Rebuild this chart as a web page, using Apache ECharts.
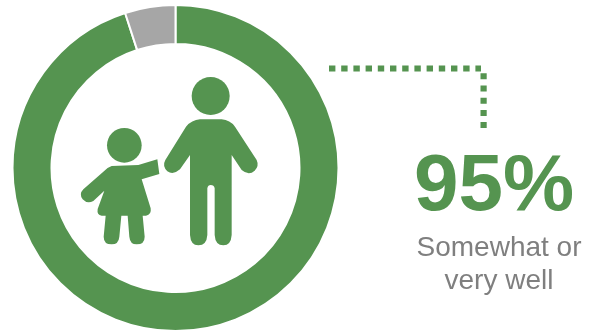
<!DOCTYPE html>
<html>
<head>
<meta charset="utf-8">
<style>html,body{margin:0;padding:0;background:#fff}#chart{width:589px;height:331px}</style>
<script src="https://cdn.jsdelivr.net/npm/echarts@6/dist/echarts.min.js"></script>
</head>
<body>
<div id="chart"></div>
<script>
// Share of responses
const categories = ['Somewhat or very well', 'Other'];
const values = [95, 5];
const headline = '95%';
const captionLines = ['Somewhat or', 'very well'];

const GREEN = '#559450';
const GREY = '#a6a6a6';
const CAPTION = '#7f7f7f';

// Pictogram outlines, on a 3x grid anchored at (60,60)
const adultBody = 'M420 178 L485 178 Q510 180 525 200 L590 300 Q598 318 584 332 Q566 348 545 330 L515 285 L515 525 Q513 556 490 556 Q466 556 464 525 L464 385 Q462 375 452 375 Q444 375 442 385 L442 525 Q440 556 415 556 Q392 556 390 525 L390 285 L360 328 Q340 346 322 334 Q306 318 316 300 L378 200 Q395 180 420 178 Z';
const childBody = 'M155 318 L235 315 L292 298 L298 342 L245 358 L272 445 Q275 465 258 467 L248 467 L254 530 Q254 553 230 553 Q210 553 208 530 L203 467 L184 467 L178 530 Q176 553 155 553 Q131 553 131 530 L137 467 L125 467 Q110 465 113 447 L133 392 L100 423 Q82 433 68 418 Q56 402 70 388 L130 335 Q142 322 155 318 Z';

echarts.graphic.registerShape('adultBody', echarts.graphic.extendPath(adultBody, {}));
echarts.graphic.registerShape('childBody', echarts.graphic.extendPath(childBody, {}));

const pictogram = {
  type: 'group',
  x: 60,
  y: 60,
  scaleX: 1 / 3,
  scaleY: 1 / 3,
  children: [
    { type: 'circle', shape: { cx: 452, cy: 108, r: 57 }, style: { fill: GREEN } },
    { type: 'adultBody', style: { fill: GREEN } },
    { type: 'circle', shape: { cx: 193, cy: 256, r: 52 }, style: { fill: GREEN } },
    { type: 'childBody', style: { fill: GREEN } }
  ]
};

// Dotted leader from the ring to the callout
const leader = [
  { type: 'line', shape: { x1: 329, y1: 68.5, x2: 481, y2: 68.5 }, style: { stroke: GREEN, lineWidth: 6, lineDash: [6.4, 5.8] } },
  { type: 'line', shape: { x1: 483.6, y1: 73.3, x2: 483.6, y2: 128 }, style: { stroke: GREEN, lineWidth: 6.2, lineDash: [6, 6.2] } }
];

const callout = [
  { type: 'text', style: { text: headline, x: 494, y: 148, align: 'center', verticalAlign: 'top', fill: GREEN, font: 'bold 80px "Liberation Sans", Arial, sans-serif' } },
  { type: 'text', style: { text: captionLines[0], x: 499, y: 234, align: 'center', verticalAlign: 'top', fill: CAPTION, font: '28px "Liberation Sans", Arial, sans-serif' } },
  { type: 'text', style: { text: captionLines[1], x: 499, y: 267, align: 'center', verticalAlign: 'top', fill: CAPTION, font: '28px "Liberation Sans", Arial, sans-serif' } }
];

const chart = echarts.init(document.getElementById('chart'), null, { renderer: 'canvas' });
chart.setOption({
  animation: false,
  backgroundColor: '#ffffff',
  series: [{
    type: 'pie',
    center: [175.5, 168],
    radius: [124, 163],
    startAngle: 90,
    clockwise: true,
    silent: true,
    label: { show: false },
    labelLine: { show: false },
    itemStyle: { borderColor: '#ffffff', borderWidth: 2 },
    data: categories.map((name, i) => ({
      name,
      value: values[i],
      itemStyle: { color: i === 0 ? GREEN : GREY }
    }))
  }],
  graphic: { elements: [pictogram, ...leader, ...callout] }
});
</script>
</body>
</html>
